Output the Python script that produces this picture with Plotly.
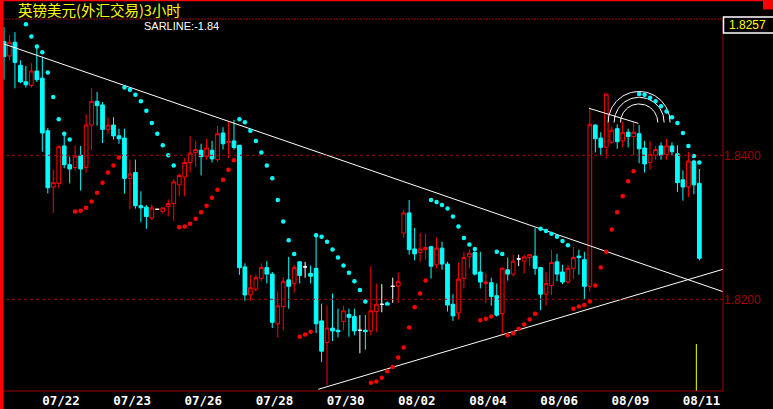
import numpy as np
import plotly.graph_objects as go

# ---------------- data ----------------
bar_index = list(range(128))
opens = [
1.8558,1.8538,1.8557,1.8525,1.8502,1.8497,1.8517,1.8507,1.8434,1.8356,
1.8361,1.8413,1.8387,1.8383,1.8400,1.8383,1.8442,1.8475,1.8470,1.8436,
1.8442,1.8427,1.8424,1.8368,1.8376,1.8330,1.8328,1.8313,1.8325,1.8322,
1.8329,1.8333,1.8359,1.8370,1.8390,1.8404,1.8407,1.8398,1.8407,1.8394,
1.8431,1.8418,1.8420,1.8414,1.8245,1.8206,1.8214,1.8229,1.8244,1.8235,
1.8166,1.8190,1.8227,1.8222,1.8252,1.8245,1.8236,1.8243,1.8170,1.8140,
1.8160,1.8157,1.8169,1.8179,1.8176,1.8157,1.8157,1.8156,1.8183,1.8193,
1.8195,1.8218,1.8218,1.8292,1.8320,1.8270,1.8265,1.8269,1.8273,1.8248,
1.8271,1.8249,1.8193,1.8181,1.8229,1.8259,1.8265,1.8238,1.8222,1.8223,
1.8205,1.8180,1.8241,1.8235,1.8256,1.8253,1.8258,1.8260,1.8244,1.8207,
1.8219,1.8252,1.8238,1.8224,1.8243,1.8260,1.8255,1.8218,1.8442,1.8424,
1.8411,1.8418,1.8437,1.8420,1.8432,1.8426,1.8430,1.8410,1.8390,1.8400,
1.8413,1.8401,1.8413,1.8402,1.8366,1.8356,1.8392,1.8361]
highs = [
1.8578,1.8567,1.8571,1.8532,1.8524,1.8528,1.8551,1.8537,1.8438,1.8380,
1.8414,1.8431,1.8398,1.8414,1.8413,1.8457,1.8493,1.8488,1.8474,1.8452,
1.8453,1.8437,1.8437,1.8394,1.8394,1.8350,1.8331,1.8332,1.8325,1.8327,
1.8339,1.8367,1.8375,1.8396,1.8427,1.8420,1.8416,1.8423,1.8420,1.8441,
1.8439,1.8447,1.8449,1.8414,1.8250,1.8234,1.8234,1.8250,1.8253,1.8238,
1.8211,1.8231,1.8259,1.8248,1.8253,1.8252,1.8247,1.8291,1.8194,1.8191,
1.8208,1.8187,1.8191,1.8187,1.8187,1.8178,1.8178,1.8246,1.8222,1.8221,
1.8197,1.8230,1.8237,1.8324,1.8338,1.8299,1.8292,1.8291,1.8274,1.8286,
1.8280,1.8252,1.8207,1.8251,1.8266,1.8269,1.8269,1.8266,1.8236,1.8230,
1.8222,1.8245,1.8258,1.8262,1.8262,1.8262,1.8262,1.8299,1.8245,1.8238,
1.8269,1.8263,1.8248,1.8248,1.8273,1.8269,1.8266,1.8466,1.8443,1.8432,
1.8485,1.8440,1.8443,1.8447,1.8437,1.8446,1.8442,1.8420,1.8420,1.8413,
1.8418,1.8423,1.8418,1.8414,1.8379,1.8405,1.8394,1.8381]
lows = [
1.8505,1.8532,1.8493,1.8500,1.8494,1.8494,1.8502,1.8405,1.8347,1.8320,
1.8354,1.8382,1.8361,1.8379,1.8351,1.8376,1.8407,1.8441,1.8417,1.8430,
1.8422,1.8416,1.8347,1.8325,1.8326,1.8307,1.8298,1.8310,1.8325,1.8319,
1.8315,1.8309,1.8343,1.8343,1.8376,1.8384,1.8372,1.8394,1.8390,1.8391,
1.8408,1.8396,1.8408,1.8234,1.8198,1.8198,1.8211,1.8225,1.8222,1.8160,
1.8147,1.8157,1.8187,1.8209,1.8222,1.8230,1.8222,1.8153,1.8113,1.8081,
1.8142,1.8147,1.8157,1.8148,1.8150,1.8125,1.8130,1.8150,1.8154,1.8182,
1.8192,1.8195,1.8195,1.8285,1.8262,1.8254,1.8252,1.8255,1.8229,1.8243,
1.8241,1.8183,1.8170,1.8172,1.8215,1.8243,1.8233,1.8215,1.8195,1.8191,
1.8176,1.8150,1.8226,1.8232,1.8246,1.8236,1.8246,1.8234,1.8185,1.8191,
1.8206,1.8225,1.8221,1.8222,1.8228,1.8234,1.8200,1.8211,1.8404,1.8400,
1.8396,1.8416,1.8409,1.8411,1.8411,1.8400,1.8389,1.8376,1.8380,1.8394,
1.8394,1.8394,1.8400,1.8349,1.8337,1.8342,1.8346,1.8254]
closes = [
1.8537,1.8557,1.8529,1.8502,1.8498,1.8517,1.8505,1.8431,1.8355,1.8362,
1.8412,1.8387,1.8381,1.8399,1.8381,1.8442,1.8475,1.8469,1.8436,1.8442,
1.8427,1.8423,1.8368,1.8374,1.8330,1.8327,1.8315,1.8327,1.8325,1.8327,
1.8333,1.8363,1.8372,1.8390,1.8403,1.8408,1.8398,1.8410,1.8395,1.8430,
1.8416,1.8419,1.8411,1.8244,1.8206,1.8216,1.8230,1.8244,1.8235,1.8168,
1.8191,1.8225,1.8218,1.8244,1.8233,1.8245,1.8232,1.8166,1.8128,1.8160,
1.8156,1.8155,1.8184,1.8175,1.8156,1.8157,1.8155,1.8184,1.8193,1.8193,
1.8192,1.8218,1.8225,1.8320,1.8269,1.8263,1.8270,1.8272,1.8246,1.8271,
1.8249,1.8192,1.8177,1.8228,1.8258,1.8264,1.8235,1.8224,1.8224,1.8204,
1.8178,1.8243,1.8235,1.8253,1.8256,1.8259,1.8262,1.8243,1.8207,1.8222,
1.8251,1.8235,1.8224,1.8243,1.8258,1.8258,1.8218,1.8443,1.8423,1.8411,
1.8485,1.8435,1.8419,1.8432,1.8426,1.8432,1.8409,1.8388,1.8401,1.8408,
1.8400,1.8413,1.8405,1.8362,1.8356,1.8392,1.8359,1.8257]

# SAR dots above price (cyan) and below price (red)
sar_above_idx = [4,5,6,7,8,9,10,11,12,
                 22,23,24,25,26,27,28,29,30,31,
                 43,44,45,46,47,48,49,50,51,52,53,
                 57,58,59,60,61,62,63,64,65,66,
                 78,79,80,81,82,83,84,85,86,
                 90,91,
                 98,99,100,101,102,103,
                 116,117,118,119,120,121,122,123,124,125,126,127]
sar_above_val = [1.8582,1.8565,1.8551,1.8543,1.8515,1.8481,1.8450,1.8430,1.8422,
                 1.8494,1.8491,1.8484,1.8475,1.8462,1.8445,1.8430,1.8414,1.8400,1.8386,
                 1.8450,1.8446,1.8434,1.8420,1.8404,1.8386,1.8368,1.8338,1.8308,1.8282,1.8263,
                 1.8289,1.8287,1.8280,1.8269,1.8258,1.8247,1.8237,1.8225,1.8213,1.8197,
                 1.8338,1.8335,1.8331,1.8326,1.8315,1.8301,1.8285,1.8276,1.8270,
                 1.8266,1.8263,
                 1.8298,1.8295,1.8291,1.8287,1.8281,1.8275,
                 1.8485,1.8484,1.8480,1.8475,1.8468,1.8461,1.8453,1.8445,1.8431,1.8413,1.8399,1.8390]
sar_below_idx = [13,14,15,16,17,18,19,20,21,
                 32,33,34,35,36,37,38,39,40,41,42,
                 54,55,56,
                 67,68,69,70,71,72,73,74,75,76,77,
                 87,88,89,
                 92,93,94,95,96,97,
                 104,105,106,107,108,109,110,111,112,113,114,115]
sar_below_val = [1.8322,1.8323,1.8327,1.8336,1.8348,1.8362,1.8376,1.8386,1.8397,
                 1.8300,1.8301,1.8305,1.8312,1.8321,1.8330,1.8341,1.8352,1.8366,1.8380,1.8393,
                 1.8148,1.8151,1.8155,
                 1.8084,1.8086,1.8091,1.8100,1.8106,1.8119,1.8133,1.8161,1.8189,1.8208,1.8226,
                 1.8171,1.8173,1.8176,
                 1.8150,1.8153,1.8159,1.8165,1.8172,1.8180,
                 1.8187,1.8190,1.8192,1.8197,1.8219,1.8244,1.8266,1.8297,1.8321,1.8343,1.8364,1.8378]

date_labels = ["07/22", "07/23", "07/26", "07/28", "07/30", "08/02", "08/04", "08/06", "08/09", "08/11"]
date_pos = [10.4, 23.4, 36.4, 49.4, 62.4, 75.4, 88.4, 101.4, 114.4, 127.4]
price_ticks = [1.84, 1.82]
price_tick_text = ["1.8400", "1.8200"]
last_price_text = "1.8257"
sar_text = "SARLINE:-1.84"
title_text = "英镑美元(外汇交易)3小时"

# drawn trend lines (index, price)
trend_down = ([0, 131.32], [1.85546, 1.82106])
trend_up = ([57.4, 131.32], [1.8075, 1.82417])
trend_short = ([106.85, 115.85], [1.84653, 1.84444])
arc_center = (116.0, 1.84456)
arc_radii_idx = [5.66, 4.57, 3.40]
arc_radii_px = [0.004306, 0.003500, 0.002570]
marker_line = ([126.45, 126.45], [1.81379, 1.80726])

# ---------------- figure ----------------
X_RANGE = [-0.73, 131.32]
Y_RANGE = [1.807264, 1.858931]
W, H = 773, 409
ML, MR, MT, MB = 0, 50, 19, 18
PW, PH = W - ML - MR, H - MT - MB

RED = "#FF0000"
CYAN = "#00FFFF"
DARKRED = "#A00000"

up = [i for i in bar_index if closes[i] > opens[i]]
dn = [i for i in bar_index if closes[i] < opens[i]]
dj = [i for i in bar_index if closes[i] == opens[i]]


def sub(idx, arr):
    return [arr[i] for i in idx]


fig = go.Figure()

for idx, lc, fc in [(up, RED, "#000000"), (dn, CYAN, CYAN), (dj, "#FFFFFF", "#FFFFFF")]:
    fig.add_trace(go.Candlestick(
        x=idx, open=sub(idx, opens), high=sub(idx, highs), low=sub(idx, lows), close=sub(idx, closes),
        increasing=dict(line=dict(color=lc, width=1), fillcolor=fc),
        decreasing=dict(line=dict(color=lc, width=1), fillcolor=fc),
        whiskerwidth=0, showlegend=False, hoverinfo="skip"))

# trend lines
for xs, ys in [trend_down, trend_up, trend_short]:
    fig.add_trace(go.Scatter(x=xs, y=ys, mode="lines", line=dict(color="#FFFFFF", width=1),
                             showlegend=False, hoverinfo="skip"))
# arcs
t = np.linspace(0, np.pi, 60)
for rx, ry in zip(arc_radii_idx, arc_radii_px):
    fig.add_trace(go.Scatter(x=arc_center[0] + rx * np.cos(t), y=arc_center[1] + ry * np.sin(t),
                             mode="lines", line=dict(color="#FFFFFF", width=1),
                             showlegend=False, hoverinfo="skip"))

# SAR dots
fig.add_trace(go.Scatter(x=sar_above_idx, y=sar_above_val, mode="markers",
                         marker=dict(color=CYAN, size=4.5, symbol="circle"),
                         showlegend=False, hoverinfo="skip"))
fig.add_trace(go.Scatter(x=sar_below_idx, y=sar_below_val, mode="markers",
                         marker=dict(color=RED, size=4.5, symbol="circle"),
                         showlegend=False, hoverinfo="skip"))
# yellow marker line
fig.add_trace(go.Scatter(x=marker_line[0], y=marker_line[1], mode="lines",
                         line=dict(color="#FFFF00", width=1), showlegend=False, hoverinfo="skip"))

px_x = lambda p: (p - ML) / PW
px_y = lambda p: 1 - (p - MT) / PH

shapes = []
for v in price_ticks:
    shapes.append(dict(type="line", xref="paper", yref="y", x0=0, x1=1, y0=v, y1=v,
                       line=dict(color=DARKRED, width=1, dash="3px,3px")))
# frame
shapes.append(dict(type="line", xref="paper", yref="paper", x0=0, x1=1, y0=1, y1=1,
                   line=dict(color=DARKRED, width=1, dash="2px,1px")))
shapes.append(dict(type="line", xref="paper", yref="paper", x0=0, x1=1, y0=0, y1=0,
                   line=dict(color=DARKRED, width=1)))
shapes.append(dict(type="line", xref="paper", yref="paper", x0=1, x1=1, y0=0, y1=1,
                   line=dict(color=DARKRED, width=1)))
# window border bits
shapes.append(dict(type="rect", xref="paper", yref="paper", x0=px_x(0), x1=px_x(3.5),
                   y0=px_y(H), y1=px_y(0), fillcolor=RED, line=dict(width=0)))
shapes.append(dict(type="rect", xref="paper", yref="paper", x0=px_x(0), x1=px_x(W),
                   y0=px_y(1.2), y1=px_y(0), fillcolor=RED, line=dict(width=0)))
shapes.append(dict(type="rect", xref="paper", yref="paper", x0=px_x(763), x1=px_x(W),
                   y0=px_y(9.5), y1=px_y(0), fillcolor=RED, line=dict(width=0)))
# last price box
shapes.append(dict(type="rect", xref="paper", yref="paper", x0=px_x(723.5), x1=px_x(W + 5),
                   y0=px_y(33), y1=px_y(17), fillcolor="#000000",
                   line=dict(color="#FFFFFF", width=1.5)))

annotations = [
    dict(text=title_text, xref="paper", yref="paper", x=px_x(16), y=px_y(9.5), xanchor="left",
         yanchor="middle", showarrow=False,
         font=dict(family="Noto Sans CJK SC", size=14.5, color="#FFFF00")),
    dict(text=sar_text, xref="paper", yref="paper", x=px_x(142), y=px_y(26), xanchor="left",
         yanchor="middle", showarrow=False,
         font=dict(family="Liberation Sans", size=11, color="#FFFFFF")),
    dict(text=last_price_text, xref="paper", yref="paper", x=px_x(727), y=px_y(25.5), xanchor="left",
         yanchor="middle", showarrow=False,
         font=dict(family="Liberation Sans", size=12, color="#FFFF00")),
]

fig.update_layout(
    width=W, height=H, autosize=False,
    margin=dict(l=ML, r=MR, t=MT, b=MB, pad=0),
    paper_bgcolor="#000000", plot_bgcolor="#000000",
    boxgap=0.25, boxgroupgap=0.1,
    showlegend=False, shapes=shapes, annotations=annotations,
    xaxis=dict(range=X_RANGE, showgrid=False, zeroline=False, showline=False,
               rangeslider=dict(visible=False), tickmode="array", tickvals=date_pos,
               ticktext=date_labels, ticks="", ticklen=0,
               tickfont=dict(family="DejaVu Sans Mono", size=12.5, color="#FFFFFF", weight="bold"),
               fixedrange=True),
    yaxis=dict(range=Y_RANGE, side="right", showgrid=False, zeroline=False, showline=False,
               tickmode="array", tickvals=price_ticks, ticktext=price_tick_text, ticks="",
               tickfont=dict(family="Liberation Sans", size=12, color=DARKRED), fixedrange=True),
)

fig.write_html("out.html", config={"displayModeBar": False},
               post_script="document.body.style.margin='0px';document.body.style.overflow='hidden';")
